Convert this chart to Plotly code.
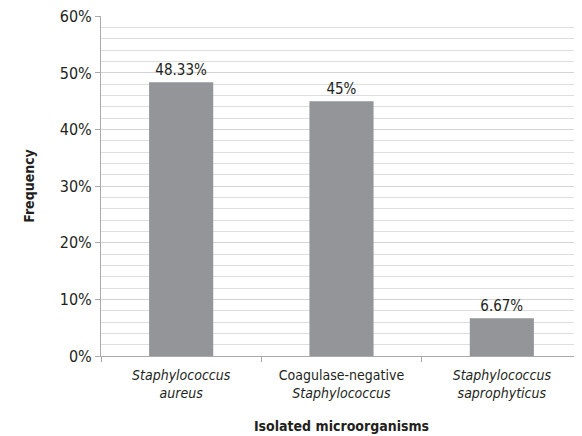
import plotly.graph_objects as go

categories = [
    "<i>Staphylococcus</i><br><i>aureus</i>",
    "Coagulase-negative<br><i>Staphylococcus</i>",
    "<i>Staphylococcus</i><br><i>saprophyticus</i>",
]
values = [48.33, 45, 6.67]
value_labels = ["48.33%", "45%", "6.67%"]
y_tick_values = [0, 10, 20, 30, 40, 50, 60]
y_tick_labels = ["0%", "10%", "20%", "30%", "40%", "50%", "60%"]

FONT = "DejaVu Sans Condensed, Liberation Sans Narrow, Arial Narrow, sans-serif"
TXT = "#231f20"

fig = go.Figure(go.Bar(
    x=categories,
    y=values,
    text=value_labels,
    textposition="outside",
    cliponaxis=False,
    textfont=dict(family=FONT, size=15, color=TXT),
    marker=dict(color="#939598", line=dict(width=0)),
    width=0.4,
    hoverinfo="skip",
))

# the page body adds an 8px offset; margins compensate for it
fig.update_layout(
    width=582, height=436,
    margin=dict(l=93, r=8, t=8, b=88, autoexpand=False),
    paper_bgcolor="white", plot_bgcolor="white",
    font=dict(family=FONT, size=15, color=TXT),
    showlegend=False,
    bargap=0.6,
)
fig.update_xaxes(
    type="category",
    automargin=False,
    tickson="boundaries",
    ticks="outside", ticklen=5, tickcolor="#aaaaaa",
    ticklabelstandoff=6,
    showline=True, linecolor="#aaaaaa", linewidth=1,
    showgrid=False,
    tickfont=dict(family=FONT, size=14, color=TXT),
    title=dict(text="<b>Isolated microorganisms</b>", standoff=21,
               font=dict(family=FONT, size=14, color=TXT)),
)
fig.update_yaxes(
    automargin=False,
    ticklabeloverflow="allow",
    range=[0, 60.05],
    tickmode="array", tickvals=y_tick_values, ticktext=y_tick_labels,
    ticks="outside", ticklen=5, tickcolor="#aaaaaa",
    showline=True, linecolor="#aaaaaa", linewidth=1,
    showgrid=True, gridcolor="#d4d4d4", gridwidth=1,
    minor=dict(dtick=2, showgrid=True, gridcolor="#dedede", gridwidth=1),
    zeroline=False,
    tickfont=dict(family=FONT, size=16, color=TXT),
    title=dict(text="<b>Frequency</b>", standoff=21,
               font=dict(family=FONT, size=14, color=TXT)),
)

fig.write_html("out.html")
